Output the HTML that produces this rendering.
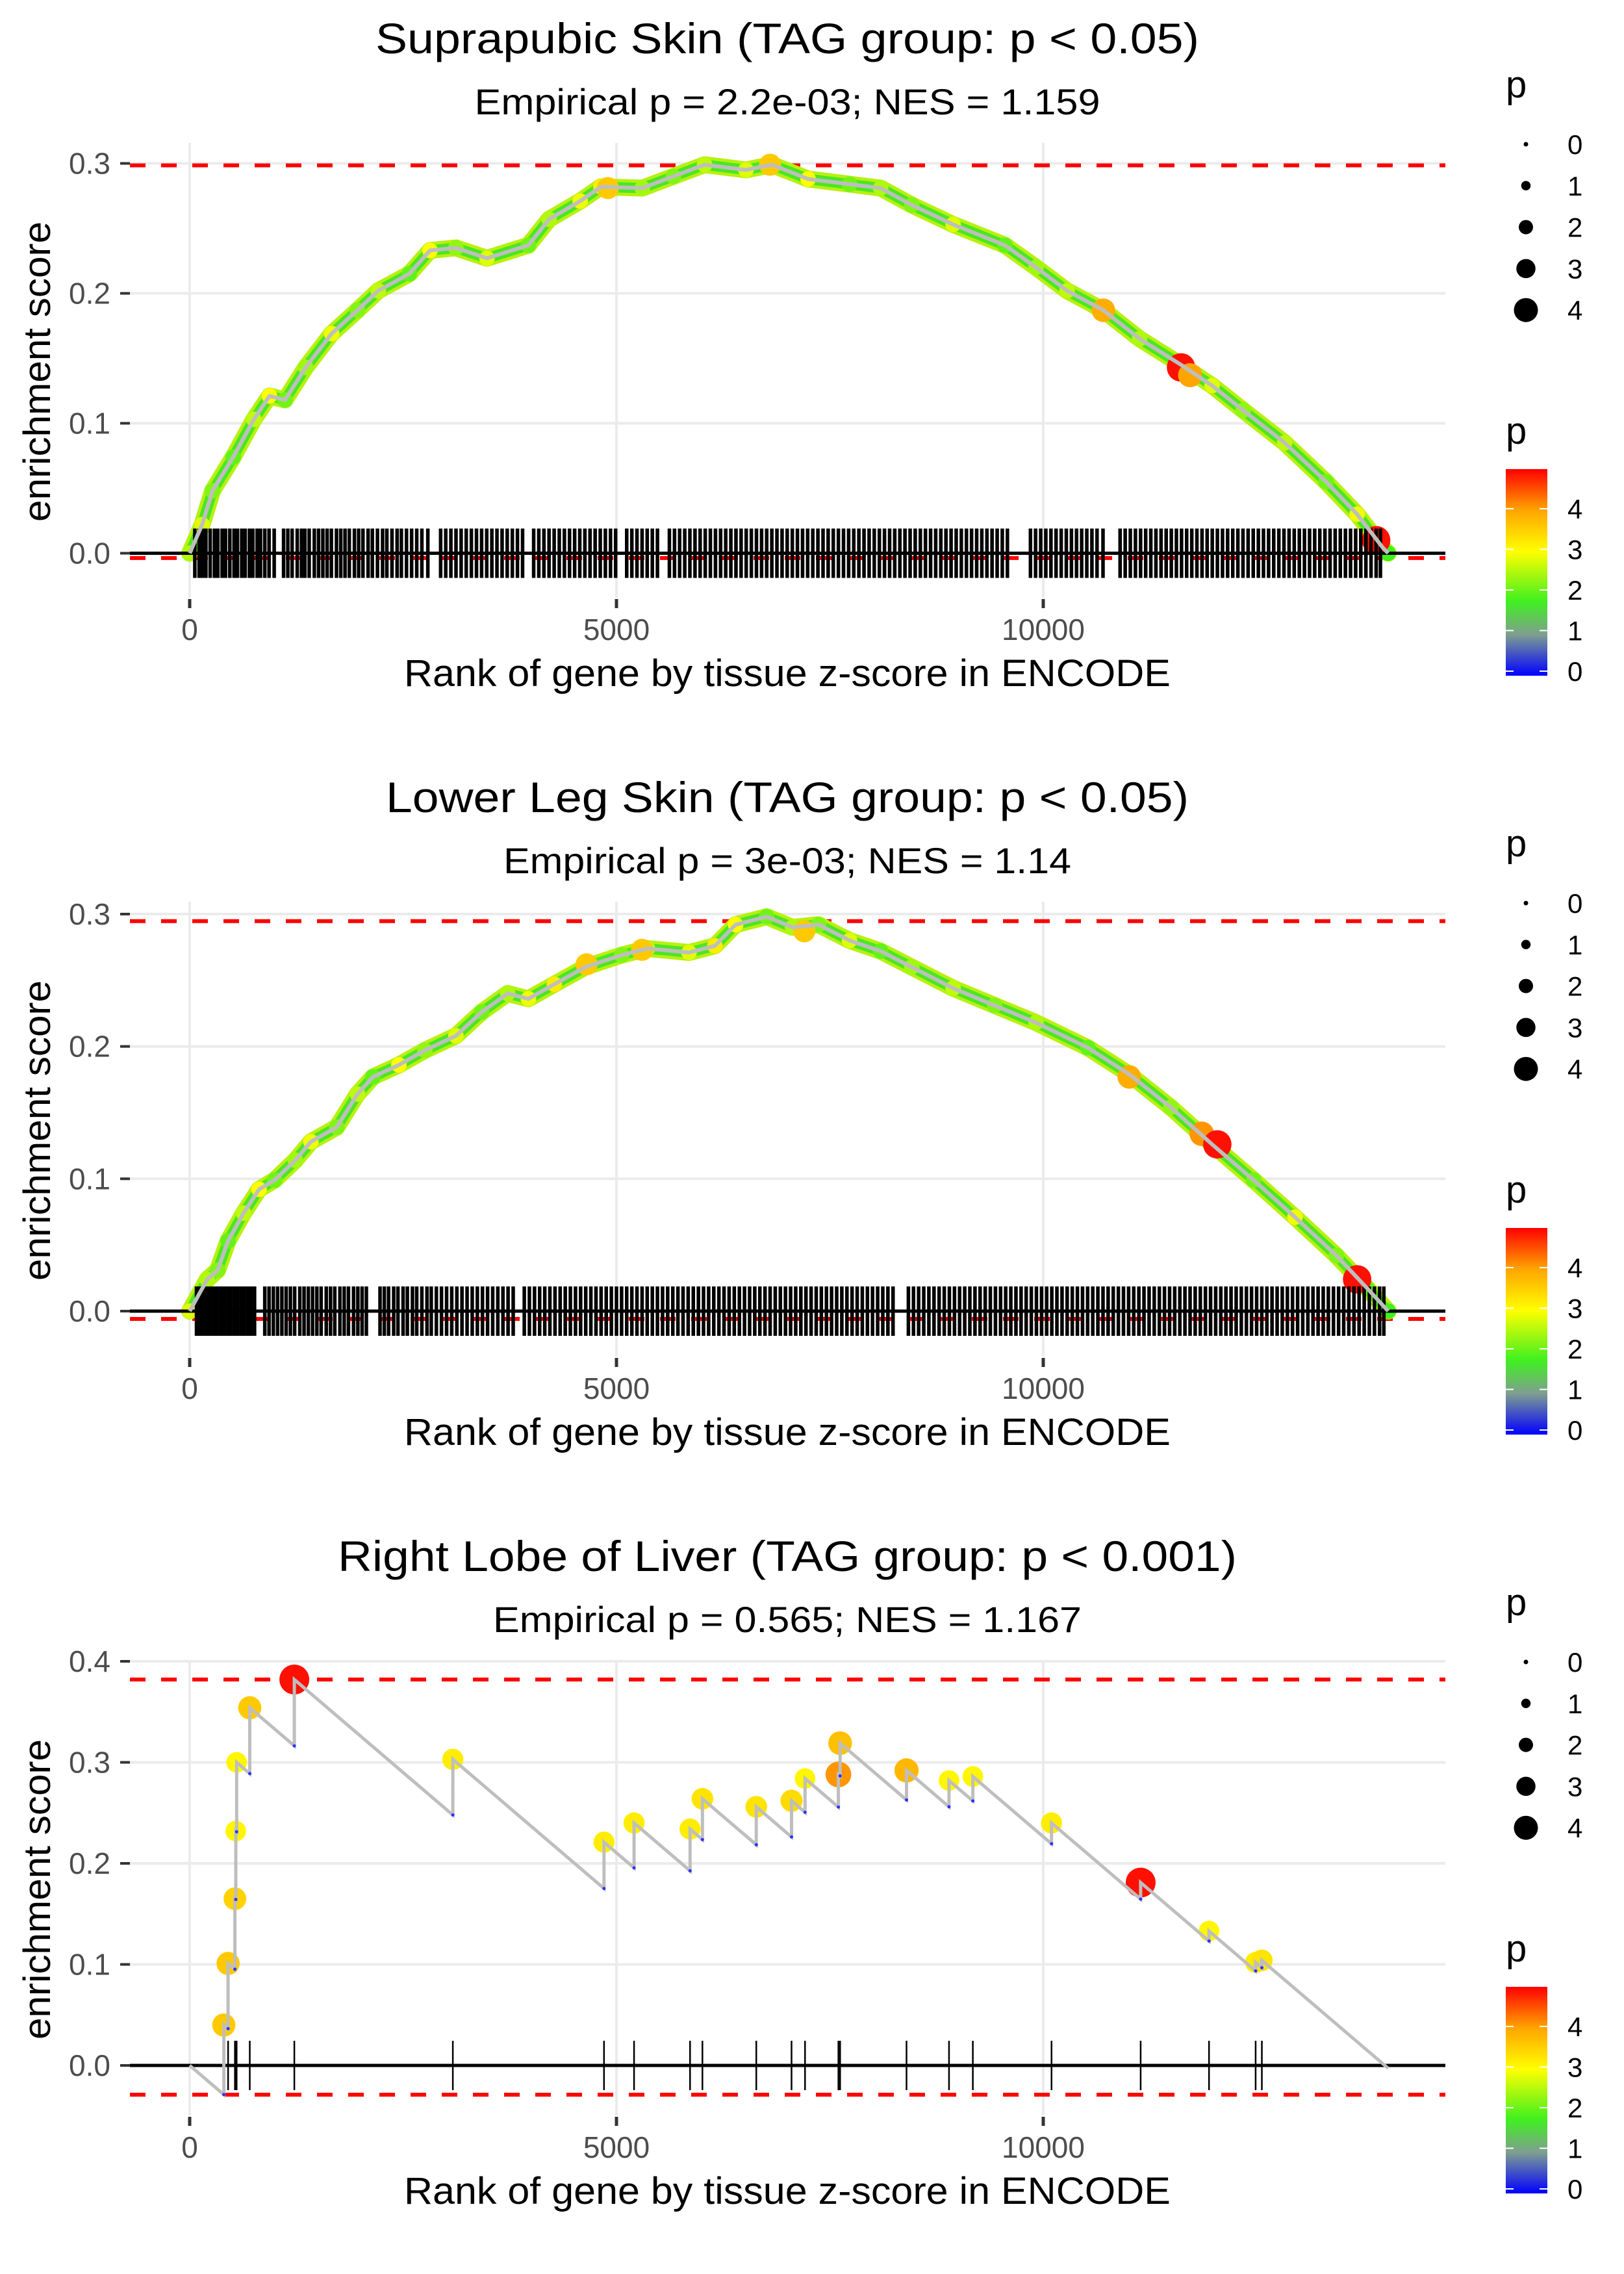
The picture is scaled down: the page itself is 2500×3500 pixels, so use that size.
<!DOCTYPE html>
<html><head><meta charset="utf-8"><title>Enrichment plots</title>
<style>
html,body{margin:0;padding:0;background:#fff;}
svg{display:block;font-family:"Liberation Sans",Arial,sans-serif;}
</style></head>
<body>
<svg id="chart" width="2500" height="3500" viewBox="0 0 2500 3500" xmlns="http://www.w3.org/2000/svg">
<defs>
<linearGradient id="pgrad" x1="0" y1="1" x2="0" y2="0">
<stop offset="0" stop-color="#0000ff"/>
<stop offset="0.2" stop-color="#7f9f8f"/>
<stop offset="0.36" stop-color="#40f020"/>
<stop offset="0.6" stop-color="#ffff00"/>
<stop offset="0.8" stop-color="#ffa500"/>
<stop offset="1" stop-color="#ff0000"/>
</linearGradient>
</defs>
</svg>
<script>
// ---------- Panel 1: Suprapubic Skin ----------
const p1Ranks = [0,146,267,510,752,935,1117,1359,1663,1966,2209,2573,2816,3119,3483,3968,4211,4575,4818,5303,5667,6032,6517,6821,7245,7731,8095,8459,8944,9551,9915,10279,10704,11129,11614,11978,12342,12828,13313,13677,13981,14041];
const p1ES = [0,0.022,0.048,0.074,0.103,0.121,0.118,0.143,0.169,0.187,0.202,0.215,0.233,0.235,0.227,0.237,0.257,0.271,0.282,0.281,0.290,0.299,0.295,0.299,0.288,0.284,0.281,0.268,0.253,0.237,0.220,0.202,0.187,0.165,0.145,0.129,0.110,0.085,0.055,0.030,0.004,0];
const p1P = [2.5,2.8,2.2,2.0,2.6,3.0,2.1,2.4,2.9,2.2,2.6,2.0,3.0,2.3,2.8,2.1,2.5,2.9,3.2,2.4,2.2,2.6,2.8,3.2,3.0,2.1,2.5,2.2,2.8,2.0,2.4,2.6,2.2,2.5,2.0,2.8,2.3,2.6,2.1,2.9,2.2,1.8];
const p1HiRanks = [4900,6800,10704,11614,11720,13900];
const p1HiES = [0.281,0.299,0.187,0.143,0.137,0.010];
const p1HiP = [3.6,3.6,3.9,4.9,4.0,4.9];
const p1Hits = [60,110,150,190,240,290,330,380,420,470,520,560,610,650,700,740,790,830,880,930,990,1100,1150,1200,1260,1310,1350,1400,1460,1510,1560,1610,1660,1720,1770,1820,1870,1930,1980,2030,2090,2140,2200,2260,2310,2370,2430,2480,2540,2600,2660,2720,2790,2940,3000,3060,3120,3180,3240,3300,3360,3420,3480,3540,3600,3660,3720,3780,3840,3900,4030,4090,4150,4210,4270,4330,4390,4450,4510,4570,4630,4690,4750,4810,4870,4930,4990,5120,5180,5240,5300,5360,5420,5480,5620,5680,5740,5800,5860,5920,5980,6040,6100,6160,6220,6280,6340,6400,6460,6520,6580,6640,6700,6760,6820,6880,6940,7000,7060,7120,7180,7240,7300,7360,7420,7480,7540,7600,7660,7720,7780,7840,7900,7960,8020,8080,8140,8200,8260,8320,8380,8440,8500,8560,8620,8680,8740,8800,8860,8920,8980,9040,9100,9160,9220,9280,9340,9400,9460,9520,9580,9850,9910,9970,10030,10090,10150,10210,10270,10330,10390,10450,10510,10570,10630,10700,10900,10960,11020,11080,11140,11200,11260,11320,11380,11440,11500,11560,11620,11680,11740,11800,11860,11920,11980,12040,12100,12160,12220,12280,12340,12400,12460,12520,12580,12640,12700,12760,12820,12880,12940,13000,13060,13120,13180,13240,13300,13360,13420,13480,13540,13600,13660,13720,13780,13840,13900,13950];

// ---------- Panel 2: Lower Leg Skin ----------
const p2Ranks = [0,206,328,449,631,813,995,1238,1420,1723,1966,2148,2451,2755,3119,3422,3726,3968,4272,4636,5061,5364,5850,6153,6396,6760,7063,7367,7731,8095,8459,8944,9430,9915,10522,11007,11493,11978,12464,12949,13434,13798,14041];
const p2ES = [0,0.024,0.031,0.053,0.074,0.092,0.099,0.114,0.128,0.139,0.164,0.177,0.186,0.197,0.208,0.226,0.240,0.236,0.247,0.260,0.269,0.274,0.271,0.276,0.292,0.298,0.290,0.292,0.280,0.272,0.260,0.244,0.231,0.218,0.199,0.179,0.154,0.126,0.099,0.071,0.042,0.017,0];
const p2P = [2.8,2.5,2.2,2.0,2.6,3.0,2.1,2.4,2.9,2.2,2.6,2.0,3.0,2.3,2.8,2.1,2.5,2.9,3.2,2.4,2.2,2.6,2.8,3.2,3.0,2.1,2.5,2.2,2.8,2.0,2.4,2.6,2.2,2.5,2.0,2.8,2.3,2.6,2.1,2.9,2.2,2.0,1.8];
const p2HiRanks = [4650,5300,7200,11007,11857,12039,13677];
const p2HiES = [0.262,0.273,0.287,0.177,0.134,0.126,0.024];
const p2HiP = [3.6,3.6,3.6,3.9,4.1,4.9,4.9];
const p2Hits = [80,120,160,200,240,280,320,360,400,440,480,520,560,600,640,680,720,760,880,930,980,1030,1080,1130,1180,1230,1290,1340,1390,1440,1490,1540,1600,1650,1700,1760,1810,1860,1920,1970,2020,2070,2230,2280,2330,2390,2440,2500,2550,2610,2660,2720,2780,2830,2890,2950,3010,3070,3130,3190,3250,3310,3370,3430,3490,3550,3610,3670,3730,3790,3920,3980,4040,4100,4160,4220,4280,4340,4400,4460,4520,4580,4640,4700,4760,4820,4880,4940,5000,5060,5120,5180,5240,5300,5360,5420,5480,5540,5600,5660,5720,5780,5840,5900,5960,6020,6080,6140,6200,6260,6320,6380,6440,6500,6560,6620,6680,6740,6800,6860,6920,6980,7040,7100,7160,7220,7280,7340,7400,7460,7520,7580,7640,7700,7760,7820,7880,7940,8000,8060,8120,8180,8240,8420,8480,8540,8600,8660,8720,8780,8840,8900,8960,9020,9080,9140,9200,9260,9320,9380,9440,9500,9560,9620,9680,9740,9800,9860,9920,9980,10040,10100,10160,10220,10280,10340,10400,10460,10520,10580,10640,10700,10760,10820,10880,10940,11000,11060,11120,11180,11240,11300,11360,11420,11480,11540,11600,11660,11720,11780,11840,11900,11960,12020,12080,12140,12200,12260,12320,12380,12440,12500,12560,12620,12680,12740,12800,12860,12920,12980,13040,13100,13160,13220,13280,13340,13400,13460,13520,13580,13640,13700,13760,13820,13880,13940,13990];

// ---------- Panel 3: Right Lobe of Liver ----------
const p3HitRanks = [400,450,530,540,550,704,1226,3083,4854,5206,5862,6007,6638,7051,7209,7600,7620,8398,8896,9175,10097,11141,11942,12488,12561];
const p3HitES = [0.040,0.101,0.165,0.232,0.300,0.354,0.382,0.303,0.221,0.240,0.234,0.264,0.256,0.262,0.284,0.288,0.319,0.292,0.282,0.286,0.240,0.181,0.133,0.102,0.104];
const p3HitP = [3.6,3.6,3.5,3.1,3.1,3.6,4.9,3.2,3.2,3.2,3.2,3.3,3.3,3.4,3.1,4.1,3.7,3.8,3.1,3.1,3.2,4.9,3.1,3.2,3.3];
const p3MissStep = 0.0000722;
const p3EndRank = 14041;

const yTicks12 = [0, 0.1, 0.2, 0.3];
const yTicks3 = [0, 0.1, 0.2, 0.3, 0.4];
const xTicks = [0, 5000, 10000];
const sizeLegendValues = [0, 1, 2, 3, 4];
const colorLegendValues = [0, 1, 2, 3, 4];

const titles = ["Suprapubic Skin (TAG group: p < 0.05)","Lower Leg Skin (TAG group: p < 0.05)","Right Lobe of Liver (TAG group: p < 0.001)"];
const subtitles = ["Empirical p = 2.2e-03; NES = 1.159","Empirical p = 3e-03; NES = 1.14","Empirical p = 0.565; NES = 1.167"];
const titleWidths = [1268,1236,1384];
const subWidths = [963,874,906];

const svg = document.getElementById('chart');
const NS = 'http://www.w3.org/2000/svg';
function mk(tag, attrs, parent){
  const e = document.createElementNS(NS, tag);
  for (const k in attrs) e.setAttribute(k, attrs[k]);
  (parent||svg).appendChild(e);
  return e;
}
const X0 = 292, XS = 0.1314, PL = 200, PR = 2225;
function xs(r){ return X0 + r*XS; }
function pColor(p){
  const st = [[0,[0,0,255]],[1,[127,159,143]],[1.8,[64,240,32]],[3,[255,255,0]],[4,[255,165,0]],[5,[255,0,0]]];
  for (let i=0;i<st.length-1;i++){
    if (p<=st[i+1][0]){
      const t=(p-st[i][0])/(st[i+1][0]-st[i][0]);
      const c=st[i][1].map((v,j)=>Math.round(v+(st[i+1][1][j]-v)*Math.max(0,t)));
      return 'rgb('+c.join(',')+')';
    }
  }
  return 'rgb(255,0,0)';
}
function pRad(p){ return 3.5 + 3.75*p; }

function panel(idx, yMap, ticks, redTop, redBot){
  const off = idx*1168;
  const top = 220+off, bot = 920+off;
  const g = mk('g', {});
  
  
  let t = mk('text', {x:1212, y:82+off, 'text-anchor':'middle', 'font-size':66, textLength:titleWidths[idx], lengthAdjust:'spacingAndGlyphs', fill:'#000'}, g);
  t.textContent = titles[idx];
  
  
  t = mk('text', {x:1212, y:176+off, 'text-anchor':'middle', 'font-size':56, textLength:subWidths[idx], lengthAdjust:'spacingAndGlyphs', fill:'#000'}, g);
  t.textContent = subtitles[idx];
  
  
  ticks.forEach(v=>{
    const l = mk('line', {x1:PL, x2:PR, y1:yMap(v), y2:yMap(v), stroke:'#ebebeb', 'stroke-width':4}, g);
    
    
  });
  xTicks.forEach(v=>{
    const l = mk('line', {x1:xs(v), x2:xs(v), y1:top, y2:bot, stroke:'#ebebeb', 'stroke-width':4}, g);
    
    
  });
  ticks.forEach(v=>{
    const l = mk('line', {x1:185, x2:200, y1:yMap(v), y2:yMap(v), stroke:'#333', 'stroke-width':4}, g);
    
    
    const tx = mk('text', {x:170, y:yMap(v)+16, 'text-anchor':'end', 'font-size':46, fill:'#4d4d4d'}, g);
    tx.textContent = v.toFixed(1);
    
    
  });
  xTicks.forEach(v=>{
    const l = mk('line', {x1:xs(v), x2:xs(v), y1:bot+2, y2:bot+16, stroke:'#333', 'stroke-width':5}, g);
    
    
    const tx = mk('text', {x:xs(v), y:bot+65, 'text-anchor':'middle', 'font-size':46, fill:'#4d4d4d'}, g);
    tx.textContent = String(v);
    
    
  });
  t = mk('text', {x:1212, y:1056+off, 'text-anchor':'middle', 'font-size':58, textLength:1180, lengthAdjust:'spacingAndGlyphs', fill:'#000'}, g);
  t.textContent = 'Rank of gene by tissue z-score in ENCODE';
  
  
  const cy = (top+bot)/2 + 2;
  t = mk('text', {x:0, y:0, transform:'translate(77,'+cy+') rotate(-90)', 'text-anchor':'middle', 'font-size':58, textLength:462, lengthAdjust:'spacingAndGlyphs', fill:'#000'}, g);
  t.textContent = 'enrichment score';
  
  
  [redTop, redBot].forEach(v=>{
    const l = mk('line', {x1:PL, x2:PR, y1:yMap(v), y2:yMap(v), stroke:'#ff0000', 'stroke-width':6, 'stroke-dasharray':'24 24'}, g);
    
    
  });
  let lt = mk('text', {x:2318, y:150+off, 'font-size':58, fill:'#000'}, g);
  lt.textContent = 'p';
  
  
  sizeLegendValues.forEach((v,i)=>{
    const yy = 222 + i*63.8 + off;
    const c = mk('circle', {cx:2349, cy:yy, r:pRad(v), fill:'#000'}, g);
    
    
    const tx = mk('text', {x:2413, y:yy+15, 'font-size':42, fill:'#000'}, g);
    tx.textContent = String(v);
    
    
  });
  lt = mk('text', {x:2318, y:683+off, 'font-size':58, fill:'#000'}, g);
  lt.textContent = 'p';
  
  
  const cb = mk('rect', {x:2318, y:722+off, width:64, height:318, fill:'url(#pgrad)'}, g);
  
  
  colorLegendValues.forEach(v=>{
    const yy = 1033 - v*62.5 + off;
    const a = mk('line', {x1:2318, x2:2330, y1:yy, y2:yy, stroke:'#fff', 'stroke-width':2}, g);
    
    
    const b = mk('line', {x1:2370, x2:2382, y1:yy, y2:yy, stroke:'#fff', 'stroke-width':2}, g);
    
    
    const tx = mk('text', {x:2413, y:yy+15, 'font-size':42, fill:'#000'}, g);
    tx.textContent = String(v);
    
    
  });
  return g;
}

function zeroLine(g, yMap){
  const l = mk('line', {x1:PL, x2:PR, y1:yMap(0), y2:yMap(0), stroke:'#000', 'stroke-width':5}, g);
  
  
}
function rug(g, yMap, hits, w){
  hits.forEach(r=>{
    const l = mk('line', {x1:xs(r), x2:xs(r), y1:yMap(0)-38, y2:yMap(0)+38, stroke:'#000', 'stroke-width':w}, g);
    
    
  });
}

function densePanel(idx, yMap, ranks, es, ps, hiR, hiE, hiP, hits, redTop, redBot){
  const g = panel(idx, yMap, yTicks12, redTop, redBot);
  const pts = ranks.map((r,i)=>xs(r).toFixed(1)+','+yMap(es[i]).toFixed(1)).join(' ');
  const b1 = mk('polyline', {points:pts, fill:'none', stroke:'#b8f010', 'stroke-width':26, 'stroke-linejoin':'round', 'stroke-linecap':'round'}, g);
  
  
  const b2 = mk('polyline', {points:pts, fill:'none', stroke:'#48e820', 'stroke-width':16, 'stroke-linejoin':'round'}, g);
  
  
  ranks.forEach((r,i)=>{
    const c = mk('circle', {cx:xs(r), cy:yMap(es[i]), r:12, fill:pColor(ps[i])}, g);
    
    
  });
  hiR.forEach((r,i)=>{
    const c = mk('circle', {cx:xs(r), cy:yMap(hiE[i]), r:pRad(hiP[i]), fill:pColor(hiP[i])}, g);
    
    
  });
  zeroLine(g, yMap);
  rug(g, yMap, hits, 5.5);
  const ln = mk('polyline', {points:pts, fill:'none', stroke:'#bebebe', 'stroke-width':6, 'stroke-linejoin':'round'}, g);
  
  
}

const y1 = v => 851.5 - v*2000;
const y2 = v => 2018 - v*2037;
const y3 = v => 3179 - v*1555;

densePanel(0, y1, p1Ranks, p1ES, p1P, p1HiRanks, p1HiES, p1HiP, p1Hits, 0.2985, -0.0037);
densePanel(1, y2, p2Ranks, p2ES, p2P, p2HiRanks, p2HiES, p2HiP, p2Hits, 0.2947, -0.0059);

(function(){
  const g = panel(2, y3, yTicks3, 0.382, -0.0289);
  zeroLine(g, y3);
  rug(g, y3, p3HitRanks, 2.5);
  let prevR = 0, prevE = 0;
  const path = [[0,0]];
  const before = [];
  p3HitRanks.forEach((r,i)=>{
    const b = prevE - p3MissStep*(r-prevR);
    before.push(b);
    path.push([r,b]); path.push([r,p3HitES[i]]);
    prevR = r; prevE = p3HitES[i];
  });
  path.push([p3EndRank, prevE - p3MissStep*(p3EndRank-prevR)]);
  p3HitRanks.forEach((r,i)=>{
    const c = mk('circle', {cx:xs(r), cy:y3(p3HitES[i]), r:pRad(p3HitP[i])*1.05, fill:pColor(p3HitP[i])}, g);
    
    
  });
  const ln = mk('polyline', {points:path.map(p=>xs(p[0]).toFixed(1)+','+y3(p[1]).toFixed(1)).join(' '), fill:'none', stroke:'#bebebe', 'stroke-width':5}, g);
  
  
  p3HitRanks.forEach((r,i)=>{
    const c = mk('circle', {cx:xs(r), cy:y3(before[i]), r:2.5, fill:'#3030ff'}, g);
    
    
  });
})();
</script>
</body></html>
